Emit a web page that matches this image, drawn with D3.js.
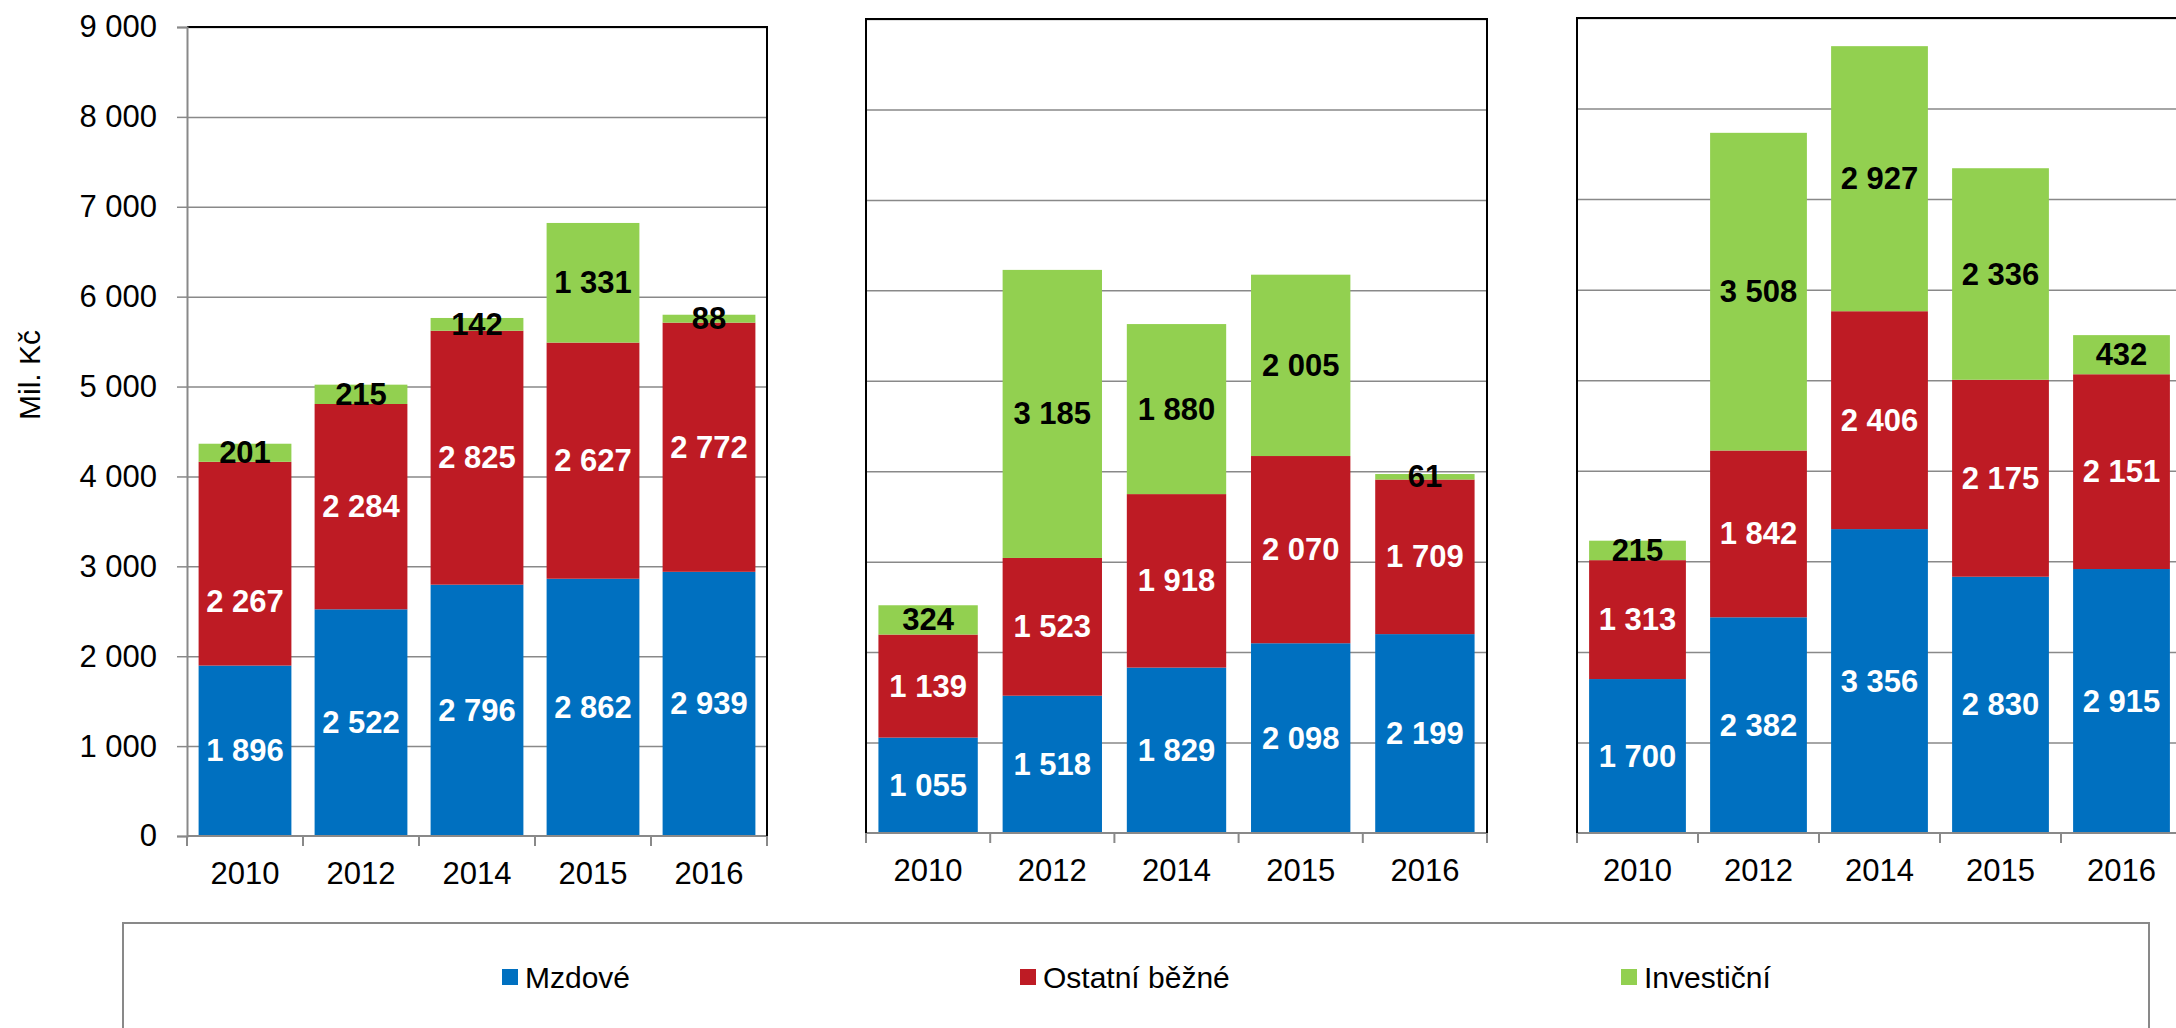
<!DOCTYPE html>
<html>
<head>
<meta charset="utf-8">
<script src="https://cdn.jsdelivr.net/npm/d3@7"></script>
<style>
  body { margin: 0; background: #fff; }
  svg { display: block; font-family: "Liberation Sans", Arial, sans-serif; }
  .grid line { stroke: #898989; stroke-width: 1.5; }
  .grid path { display: none; }
  .frame { stroke: #000; stroke-width: 2; fill: none; }
  .axis-line { stroke: #898989; stroke-width: 2; fill: none; }
  .tick-label { font-size: 31px; fill: #000; }
  .bar-label { font-size: 31px; font-weight: bold; }
  .legend-text { font-size: 30px; fill: #000; }
</style>
</head>
<body>
<svg width="2176" height="1028"></svg>
<script>
// categories and series
const years = ['2010', '2012', '2014', '2015', '2016'];
const seriesNames = ['Mzdové', 'Ostatní běžné', 'Investiční'];
const seriesColors = ['#0070C0', '#BE1B24', '#92D050'];
const labelColors = ['#fff', '#fff', '#000'];
const yTicks = [0, 1000, 2000, 3000, 4000, 5000, 6000, 7000, 8000, 9000];

// panel 1
const p1Mzdove = [1896, 2522, 2796, 2862, 2939];
const p1Ostatni = [2267, 2284, 2825, 2627, 2772];
const p1Investicni = [201, 215, 142, 1331, 88];
// panel 2
const p2Mzdove = [1055, 1518, 1829, 2098, 2199];
const p2Ostatni = [1139, 1523, 1918, 2070, 1709];
const p2Investicni = [324, 3185, 1880, 2005, 61];
// panel 3
const p3Mzdove = [1700, 2382, 3356, 2830, 2915];
const p3Ostatni = [1313, 1842, 2406, 2175, 2151];
const p3Investicni = [215, 3508, 2927, 2336, 432];

const panelData = [
  [p1Mzdove, p1Ostatni, p1Investicni],
  [p2Mzdove, p2Ostatni, p2Investicni],
  [p3Mzdove, p3Ostatni, p3Investicni]
];

// layout of the three plot areas
const panels = [
  {left: 187, right: 767, top: 27, bottom: 836, axis: true},
  {left: 866, right: 1487, top: 19, bottom: 833, axis: false},
  {left: 1577, right: 2182, top: 18, bottom: 833, axis: false}
];
// one label was moved by hand in the original (panel, series, index -> dy)
const labelNudge = {'0-1-0': 38};

const svg = d3.select('svg');
const fmt = d => d3.format(',')(d).replace(/,/g, ' ');

panels.forEach((p, pi) => {
  const y = d3.scaleLinear().domain([0, 9000]).range([p.bottom, p.top]);
  const x = d3.scaleBand().domain(years).range([p.left, p.right])
      .paddingInner(0.2).paddingOuter(0.1);
  const g = svg.append('g');

  // gridlines
  g.append('g')
      .attr('class', 'grid')
      .attr('transform', 'translate(' + p.left + ',0)')
      .call(d3.axisLeft(y).tickValues(yTicks.slice(1)).tickSize(-(p.right - p.left)).tickFormat(''));

  // stacked bars
  const rows = years.map((yr, i) => {
    const r = {year: yr};
    seriesNames.forEach((s, si) => r[s] = panelData[pi][si][i]);
    return r;
  });
  const stacked = d3.stack().keys(seriesNames)(rows);

  stacked.forEach((layer, si) => {
    g.append('g').selectAll('rect')
      .data(layer)
      .join('rect')
        .attr('x', d => x(d.data.year))
        .attr('y', d => y(d[1]))
        .attr('width', x.bandwidth())
        .attr('height', d => y(d[0]) - y(d[1]))
        .attr('fill', seriesColors[si]);
  });

  stacked.forEach((layer, si) => {
    g.append('g').selectAll('text')
      .data(layer)
      .join('text')
        .attr('class', 'bar-label')
        .attr('x', d => x(d.data.year) + x.bandwidth() / 2)
        .attr('y', (d, i) => y((d[0] + d[1]) / 2) + (labelNudge[pi + '-' + si + '-' + i] || 0))
        .attr('text-anchor', 'middle')
        .attr('dominant-baseline', 'central')
        .attr('fill', labelColors[si])
        .text(d => fmt(d[1] - d[0]));
  });

  // x axis line with category boundary ticks
  const step = x.step();
  g.append('line')
      .attr('class', 'axis-line')
      .attr('x1', p.left).attr('x2', p.right)
      .attr('y1', p.bottom).attr('y2', p.bottom);
  g.append('g').selectAll('line')
    .data(d3.range(years.length + 1))
    .join('line')
      .attr('class', 'axis-line')
      .attr('x1', i => p.left + i * step).attr('x2', i => p.left + i * step)
      .attr('y1', p.bottom).attr('y2', p.bottom + 10);
  g.append('g').selectAll('text')
    .data(years)
    .join('text')
      .attr('class', 'tick-label')
      .attr('x', d => x(d) + x.bandwidth() / 2)
      .attr('y', p.bottom + 48)
      .attr('text-anchor', 'middle')
      .text(d => d);

  // frame
  if (p.axis) {
    g.append('path').attr('class', 'frame')
        .attr('d', `M${p.left},${p.top}H${p.right}V${p.bottom}`);
    const ax = g.append('g')
        .attr('transform', 'translate(' + p.left + ',0)')
        .call(d3.axisLeft(y).tickValues(yTicks).tickSize(10).tickPadding(20).tickFormat(fmt));
    ax.select('.domain').attr('stroke', '#898989').attr('stroke-width', 2);
    ax.selectAll('.tick line').attr('stroke', '#898989').attr('stroke-width', 1.5);
    ax.selectAll('.tick text').attr('class', 'tick-label').attr('font-family', null).attr('font-size', null);
  } else {
    g.append('path').attr('class', 'frame')
        .attr('d', `M${p.left},${p.bottom}V${p.top}H${p.right}V${p.bottom}`);
  }
});

// y axis title
svg.append('text')
    .attr('transform', 'translate(29,375) rotate(-90)')
    .attr('text-anchor', 'middle')
    .attr('dominant-baseline', 'central')
    .attr('class', 'tick-label')
    .style('font-size', '30px')
    .text('Mil. Kč');

// legend
const legendX = [502, 1020, 1621];
svg.append('rect')
    .attr('x', 123).attr('y', 923)
    .attr('width', 2026).attr('height', 200)
    .attr('fill', 'none').attr('stroke', '#898989').attr('stroke-width', 2);
const leg = svg.append('g').selectAll('g')
  .data(seriesNames)
  .join('g')
    .attr('transform', (d, i) => 'translate(' + legendX[i] + ',969)');
leg.append('rect')
    .attr('width', 16).attr('height', 16)
    .attr('fill', (d, i) => seriesColors[i]);
leg.append('text')
    .attr('class', 'legend-text')
    .attr('x', 23).attr('y', 19)
    .text(d => d);
</script>
</body>
</html>
